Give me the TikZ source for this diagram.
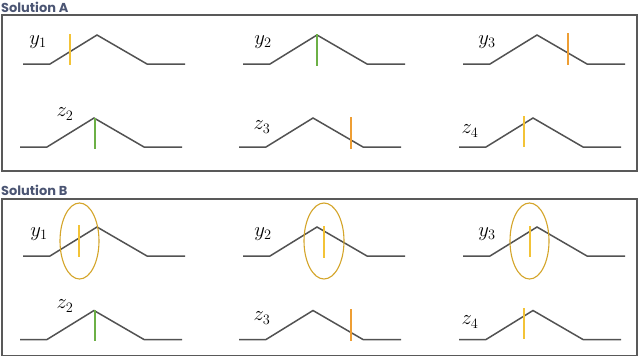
\documentclass[tikz,border=0pt]{standalone}
\usepackage{fontspec}
\newfontfamily\headfont{Poppins}
\begin{document}
\begin{tikzpicture}[x=1bp,y=-1bp,
  frame/.style={draw=black!65, line width=1.1bp},
  curve/.style={draw=black!68, line width=1.5bp, line join=miter},
  cutyel/.style={draw={rgb,255:red,243;green,195;blue,55}, line width=1.5bp},
  cutora/.style={draw={rgb,255:red,238;green,158;blue,52}, line width=1.5bp},
  cutgrn/.style={draw={rgb,255:red,108;green,176;blue,70}, line width=1.5bp},
  ring/.style={draw={rgb,255:red,212;green,165;blue,42}, line width=1.1bp},
  lab/.style={inner sep=0pt, font=\fontsize{22}{26}\selectfont},
  head/.style={inner sep=0pt, anchor=base west, text={rgb,255:red,75;green,85;blue,115}, font=\headfont\bfseries\fontsize{13}{15}\selectfont}
]
\useasboundingbox (0,0) rectangle (640,357);
\newcommand{\trap}[2]{\draw[curve] (#1,#2) -- ++(27,0) -- ++(47,-29) -- ++(50,29) -- ++(38,0);}

% headings
\node[head] (hA) at (1,12.5) {Solution A};
\node[head] (hB) at (1,195.5) {Solution B};

% frames
\draw[frame] (2,15) rectangle (637,171);
\draw[frame] (2,199) rectangle (637,355.5);

% Solution A curves
\trap{23}{64}\trap{243}{64}\trap{463}{64}
\trap{20}{147}\trap{239}{147}\trap{459}{147}
% Solution B curves
\trap{23}{256}\trap{243}{256}\trap{463}{256}
\trap{20}{339.5}\trap{239}{339.5}\trap{459}{339.5}

% Solution A marks
\draw[cutyel] (70,34) -- (70,65);
\draw[cutgrn] (317,34) -- (317,66);
\draw[cutora] (568,33) -- (568,65);
\draw[cutgrn] (95,118) -- (95,149);
\draw[cutora] (351,117) -- (351,149);
\draw[cutyel] (524,116) -- (524,147);

% Solution B marks
\draw[cutyel] (79,225) -- (79,257);
\draw[cutyel] (324,226) -- (324,258);
\draw[cutyel] (530,226) -- (530,257);
\draw[cutgrn] (95,310) -- (95,341);
\draw[cutora] (351,309) -- (351,341);
\draw[cutyel] (524,308) -- (524,339);

% ellipses
\draw[ring] (79.5,241) ellipse [x radius=19.5, y radius=38];
\draw[ring] (324,241) ellipse [x radius=20, y radius=38];
\draw[ring] (529.5,241) ellipse [x radius=19.5, y radius=38];

% labels A
\node[lab] (ay1) at (38,42) {$y_1$};
\node[lab] (ay2) at (263,42) {$y_2$};
\node[lab] (ay3) at (487,42) {$y_3$};
\node[lab] (az2) at (65,114) {$z_2$};
\node[lab] (az3) at (262,127) {$z_3$};
\node[lab] (az4) at (470,131) {$z_4$};
% labels B
\node[lab] (by1) at (39,234) {$y_1$};
\node[lab] (by2) at (263,234) {$y_2$};
\node[lab] (by3) at (487,234) {$y_3$};
\node[lab] (bz2) at (65,306) {$z_2$};
\node[lab] (bz3) at (262,318) {$z_3$};
\node[lab] (bz4) at (470,322) {$z_4$};
\end{tikzpicture}
\end{document}
